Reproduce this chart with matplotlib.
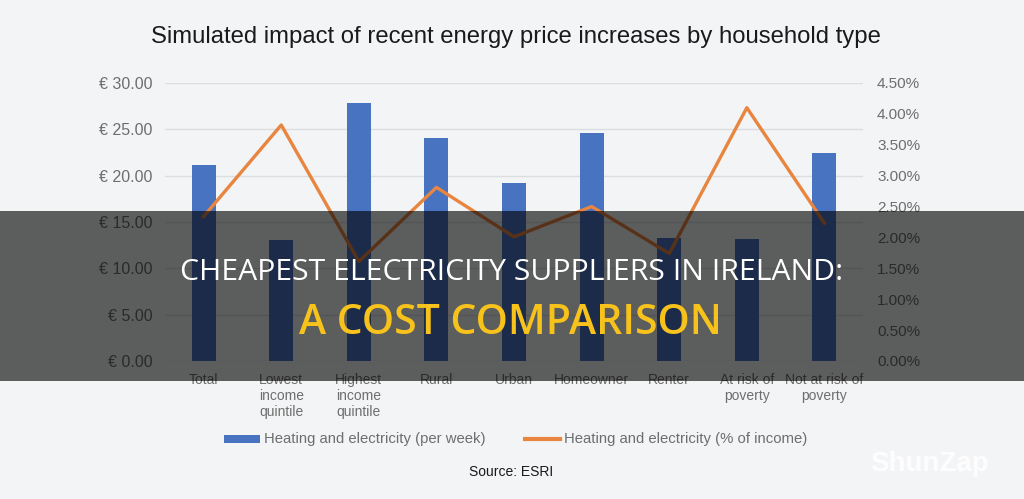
import matplotlib
matplotlib.use("Agg")
import matplotlib.pyplot as plt
from matplotlib.patches import Rectangle
from matplotlib.lines import Line2D
from matplotlib.ticker import FuncFormatter

categories = ["Total", "Lowest\nincome\nquintile", "Highest\nincome\nquintile", "Rural", "Urban",
              "Homeowner", "Renter", "At risk of\npoverty", "Not at risk of\npoverty"]
per_week = [21.2, 13.1, 27.8, 24.1, 19.2, 24.6, 13.3, 13.2, 22.4]
pct_income = [2.34, 3.82, 1.61, 2.81, 2.01, 2.50, 1.74, 4.10, 2.23]

bg = "#f3f4f6"
blue = "#4773c0"
orange = "#e8853f"
grey = "#6e6e6e"
sans = ["Liberation Sans", "DejaVu Sans"]

plt.rcParams["font.family"] = sans

fig = plt.figure(figsize=(10.24, 4.99), dpi=100, facecolor=bg)
ax = fig.add_axes([0.161, 0.2766, 0.682, 0.5571], facecolor=bg)
ax2 = ax.twinx()

x = list(range(len(categories)))
ax.bar(x, per_week, width=0.31, color=blue, zorder=2)
ax.set_xlim(-0.5, len(categories) - 0.5)
ax.set_ylim(0, 30)
ax.set_yticks([0, 5, 10, 15, 20, 25, 30])
ax.yaxis.set_major_formatter(FuncFormatter(lambda v, p: "€ %.2f" % v))
ax.grid(axis="y", color="#dcdde0", linewidth=1, zorder=0)
ax.set_axisbelow(True)
ax.set_xticks(x)
ax.set_xticklabels(categories, color=grey, fontsize=10, linespacing=1.15)
ax.tick_params(axis="both", length=0, pad=9)
ax.tick_params(axis="y", labelcolor=grey, labelsize=11.5)

ax2.plot(x, pct_income, color=orange, linewidth=2.4, zorder=3)
ax2.set_ylim(0, 4.5)
ax2.set_yticks([i * 0.5 for i in range(10)])
ax2.yaxis.set_major_formatter(FuncFormatter(lambda v, p: "%.2f%%" % v))
ax2.tick_params(axis="y", length=0, pad=10, labelcolor=grey, labelsize=11)

for a in (ax, ax2):
    for s in a.spines.values():
        s.set_visible(False)

fig.text(0.504, 0.925, "Simulated impact of recent energy price increases by household type",
         ha="center", va="center", fontsize=17.2, color="#1a1a1a")

# legend
fig.patches.append(Rectangle((224 / 1024, 1 - 443 / 499), 36 / 1024, 8 / 499,
                             transform=fig.transFigure, facecolor=blue, edgecolor="none"))
fig.text(264 / 1024, 1 - 439 / 499, "Heating and electricity (per week)", ha="left", va="center",
         fontsize=10.7, color=grey)
fig.lines.append(Line2D([525 / 1024, 560 / 1024], [1 - 439 / 499, 1 - 439 / 499],
                        transform=fig.transFigure, color=orange, linewidth=3))
fig.text(564 / 1024, 1 - 439 / 499, "Heating and electricity (% of income)", ha="left", va="center",
         fontsize=10.7, color=grey)
fig.text(511 / 1024, 1 - 472 / 499, "Source: ESRI", ha="center", va="center",
         fontsize=10, color="#1a1a1a")

# dark banner overlay
fig.patches.append(Rectangle((0, 1 - 381 / 499), 1, 170 / 499, transform=fig.transFigure,
                             facecolor="black", alpha=0.62, edgecolor="none", zorder=10))
fig.text(0.500, 1 - 273 / 499, "CHEAPEST ELECTRICITY SUPPLIERS IN IRELAND:", ha="center",
         va="center", fontsize=21.7, color="white", family="Open Sans", zorder=11)
fig.text(0.498, 1 - 323 / 499, "A COST COMPARISON", ha="center", va="center",
         fontsize=29.5, color="#f7c21b", family="Open Sans", weight="semibold", zorder=11)

fig.text(930 / 1024, 1 - 464 / 499, "ShunZap", ha="center", va="center", fontsize=20,
         color="white", weight="bold", alpha=0.9, zorder=11)

fig.savefig("out.png", dpi=100, facecolor=bg)
